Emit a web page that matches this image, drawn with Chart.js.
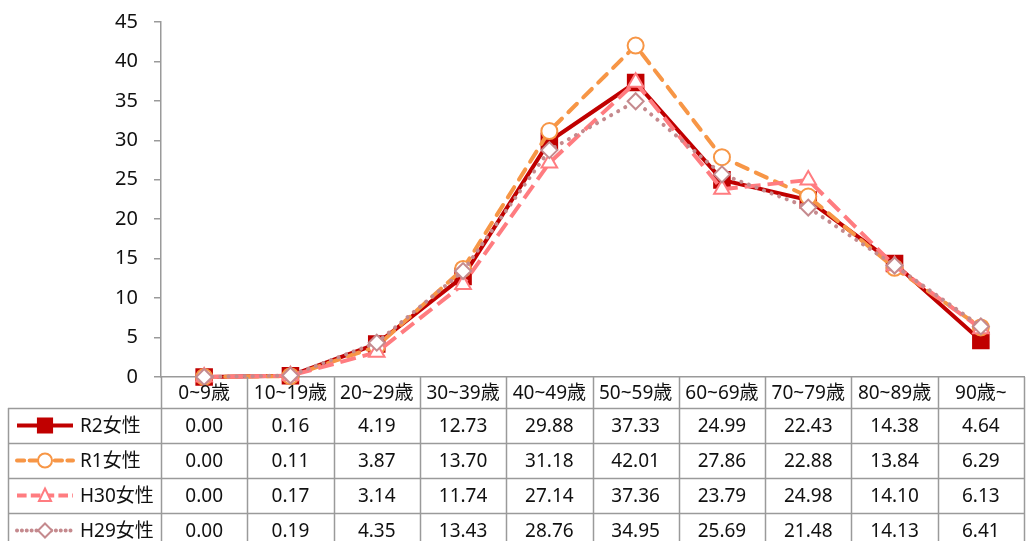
<!DOCTYPE html>
<html>
<head>
<meta charset="utf-8">
<script src="https://cdn.jsdelivr.net/npm/chart.js@4/dist/chart.umd.min.js"></script>
<style>
  html, body { margin: 0; padding: 0; background: #fff; }
  #wrap { width: 1026px; height: 541px; }
</style>
</head>
<body>
<div id="wrap"><canvas id="line-chart"></canvas></div>
<script>
// categories (age groups)
var ageLabels = ["0~9歳", "10~19歳", "20~29歳", "30~39歳", "40~49歳", "50~59歳", "60~69歳", "70~79歳", "80~89歳", "90歳~"];

// series values
var seriesNames = ["R2女性", "R1女性", "H30女性", "H29女性"];
var r2Data  = [0.00, 0.16, 4.19, 12.73, 29.88, 37.33, 24.99, 22.43, 14.38, 4.64];
var r1Data  = [0.00, 0.11, 3.87, 13.70, 31.18, 42.01, 27.86, 22.88, 13.84, 6.29];
var h30Data = [0.00, 0.17, 3.14, 11.74, 27.14, 37.36, 23.79, 24.98, 14.10, 6.13];
var h29Data = [0.00, 0.19, 4.35, 13.43, 28.76, 34.95, 25.69, 21.48, 14.13, 6.41];

// y axis ticks
var yMin = 0, yMax = 45, yStep = 5;

var fontFamily = "'Noto Sans', 'Noto Sans CJK JP', sans-serif";
var gridGray = "#9a9a9a";

var styles = [
  { color: "#C00000", dash: [], cap: "butt", point: "rect", radius: 11, fill: "#C00000", width: 4 },
  { color: "#F79646", dash: [12, 9], cap: "round", point: "circle", radius: 8, fill: "#ffffff", width: 4 },
  { color: "#FF7C80", dash: [16, 7], cap: "butt", point: "triangle", radius: 9, fill: "#ffffff", width: 4 },
  { color: "#C58A8E", dash: [0.1, 8], cap: "round", point: "rectRot", radius: 8, fill: "#ffffff", width: 4 }
];
var allData = [r2Data, r1Data, h30Data, h29Data];

function drawMarker(ctx, type, x, y, r, stroke, fill) {
  ctx.save();
  ctx.setLineDash([]);
  ctx.lineWidth = 2;
  ctx.strokeStyle = stroke;
  ctx.fillStyle = fill;
  ctx.beginPath();
  if (type === "rect") {
    var s = r * Math.SQRT1_2;
    ctx.rect(x - s, y - s, 2 * s, 2 * s);
  } else if (type === "circle") {
    ctx.arc(x, y, r, 0, Math.PI * 2);
  } else if (type === "triangle") {
    ctx.moveTo(x, y - r);
    ctx.lineTo(x + r * 0.866, y + r * 0.5 + 2);
    ctx.lineTo(x - r * 0.866, y + r * 0.5 + 2);
    ctx.closePath();
  } else {
    ctx.moveTo(x, y - r);
    ctx.lineTo(x + r, y);
    ctx.lineTo(x, y + r);
    ctx.lineTo(x - r, y);
    ctx.closePath();
  }
  ctx.fill();
  ctx.stroke();
  ctx.restore();
}

// draws the data table under the plot, using the x scale for columns
var dataTable = {
  id: "dataTable",
  afterDraw: function (chart) {
    var ctx = chart.ctx;
    var xs = chart.scales.x;
    var area = chart.chartArea;
    var colW = (area.right - area.left) / ageLabels.length;
    var top = area.bottom;
    var headH = 31, rowH = 35;
    var tableLeft = 8;
    var bottom = top + headH + rowH * 4 + 10;

    ctx.save();
    ctx.strokeStyle = gridGray;
    ctx.lineWidth = 1.5;
    ctx.setLineDash([]);
    // vertical lines
    ctx.beginPath();
    for (var i = 0; i <= ageLabels.length; i++) {
      var bx = Math.round(area.left + colW * i) + 0.5;
      ctx.moveTo(bx, top);
      ctx.lineTo(bx, bottom);
    }
    ctx.moveTo(tableLeft + 0.5, top + headH);
    ctx.lineTo(tableLeft + 0.5, bottom);
    // horizontal lines
    for (var r = 0; r < 4; r++) {
      var hy = Math.round(top + headH + rowH * r) + 0.5;
      ctx.moveTo(tableLeft, hy);
      ctx.lineTo(area.right, hy);
    }
    ctx.stroke();

    ctx.fillStyle = "#111";
    ctx.textAlign = "center";
    ctx.textBaseline = "middle";
    ctx.font = "19px " + fontFamily;
    ageLabels.forEach(function (lab, i) {
      ctx.fillText(lab, xs.getPixelForValue(i), top + headH / 2 + 1);
    });

    for (var s = 0; s < 4; s++) {
      var cy = top + headH + rowH * s + rowH / 2 + 1;
      allData[s].forEach(function (v, i) {
        ctx.fillText(v.toFixed(2), xs.getPixelForValue(i), cy);
      });
      // legend key
      var st = styles[s];
      ctx.save();
      ctx.strokeStyle = st.color;
      ctx.lineWidth = st.width;
      ctx.lineCap = st.cap;
      ctx.setLineDash(st.dash.length ? st.dash.map(function (d) { return d * 0.6; }) : []);
      ctx.beginPath();
      ctx.moveTo(17, cy - 1);
      ctx.lineTo(73, cy - 1);
      ctx.stroke();
      ctx.restore();
      drawMarker(ctx, st.point, 45, cy - 1, st.point === "rect" ? 10 : 7, st.color, st.fill);
      ctx.textAlign = "left";
      ctx.fillText(seriesNames[s], 80, cy);
      ctx.textAlign = "center";
    }
    ctx.restore();
  }
};

var datasets = seriesNames.map(function (name, i) {
  var st = styles[i];
  return {
    label: name,
    data: allData[i],
    borderColor: st.color,
    borderWidth: st.width,
    borderDash: st.dash,
    borderCapStyle: st.cap,
    pointStyle: st.point,
    pointRadius: st.radius,
    pointBackgroundColor: st.fill,
    pointBorderColor: st.color,
    pointBorderWidth: 2,
    tension: 0,
    clip: false,
    order: 4 - i
  };
});

var config = {
  type: "line",
  data: { labels: ageLabels, datasets: datasets },
  plugins: [dataTable],
  options: {
    responsive: true,
    maintainAspectRatio: false,
    animation: false,
    layout: { autoPadding: false, padding: { top: 22, right: 2, left: 0, bottom: 0 } },
    plugins: { legend: { display: false }, tooltip: { enabled: false } },
    scales: {
      x: {
        offset: true,
        ticks: { display: false },
        grid: { display: false },
        border: { display: true, color: gridGray, width: 1.5 },
        afterFit: function (scale) { scale.height = 164; }
      },
      y: {
        min: yMin,
        max: yMax,
        ticks: { stepSize: yStep, color: "#111", padding: 16, font: { size: 20, family: fontFamily } },
        grid: { drawOnChartArea: false, drawTicks: true, tickLength: 7, color: gridGray, lineWidth: 1.5 },
        border: { display: true, color: gridGray, width: 1.5 },
        afterFit: function (scale) {
          scale.width = 161;
          scale.paddingTop = 12;
          scale.paddingBottom = 12;
        }
      }
    }
  }
};

var lineChart = new Chart(document.getElementById("line-chart"), config);
</script>
</body>
</html>
